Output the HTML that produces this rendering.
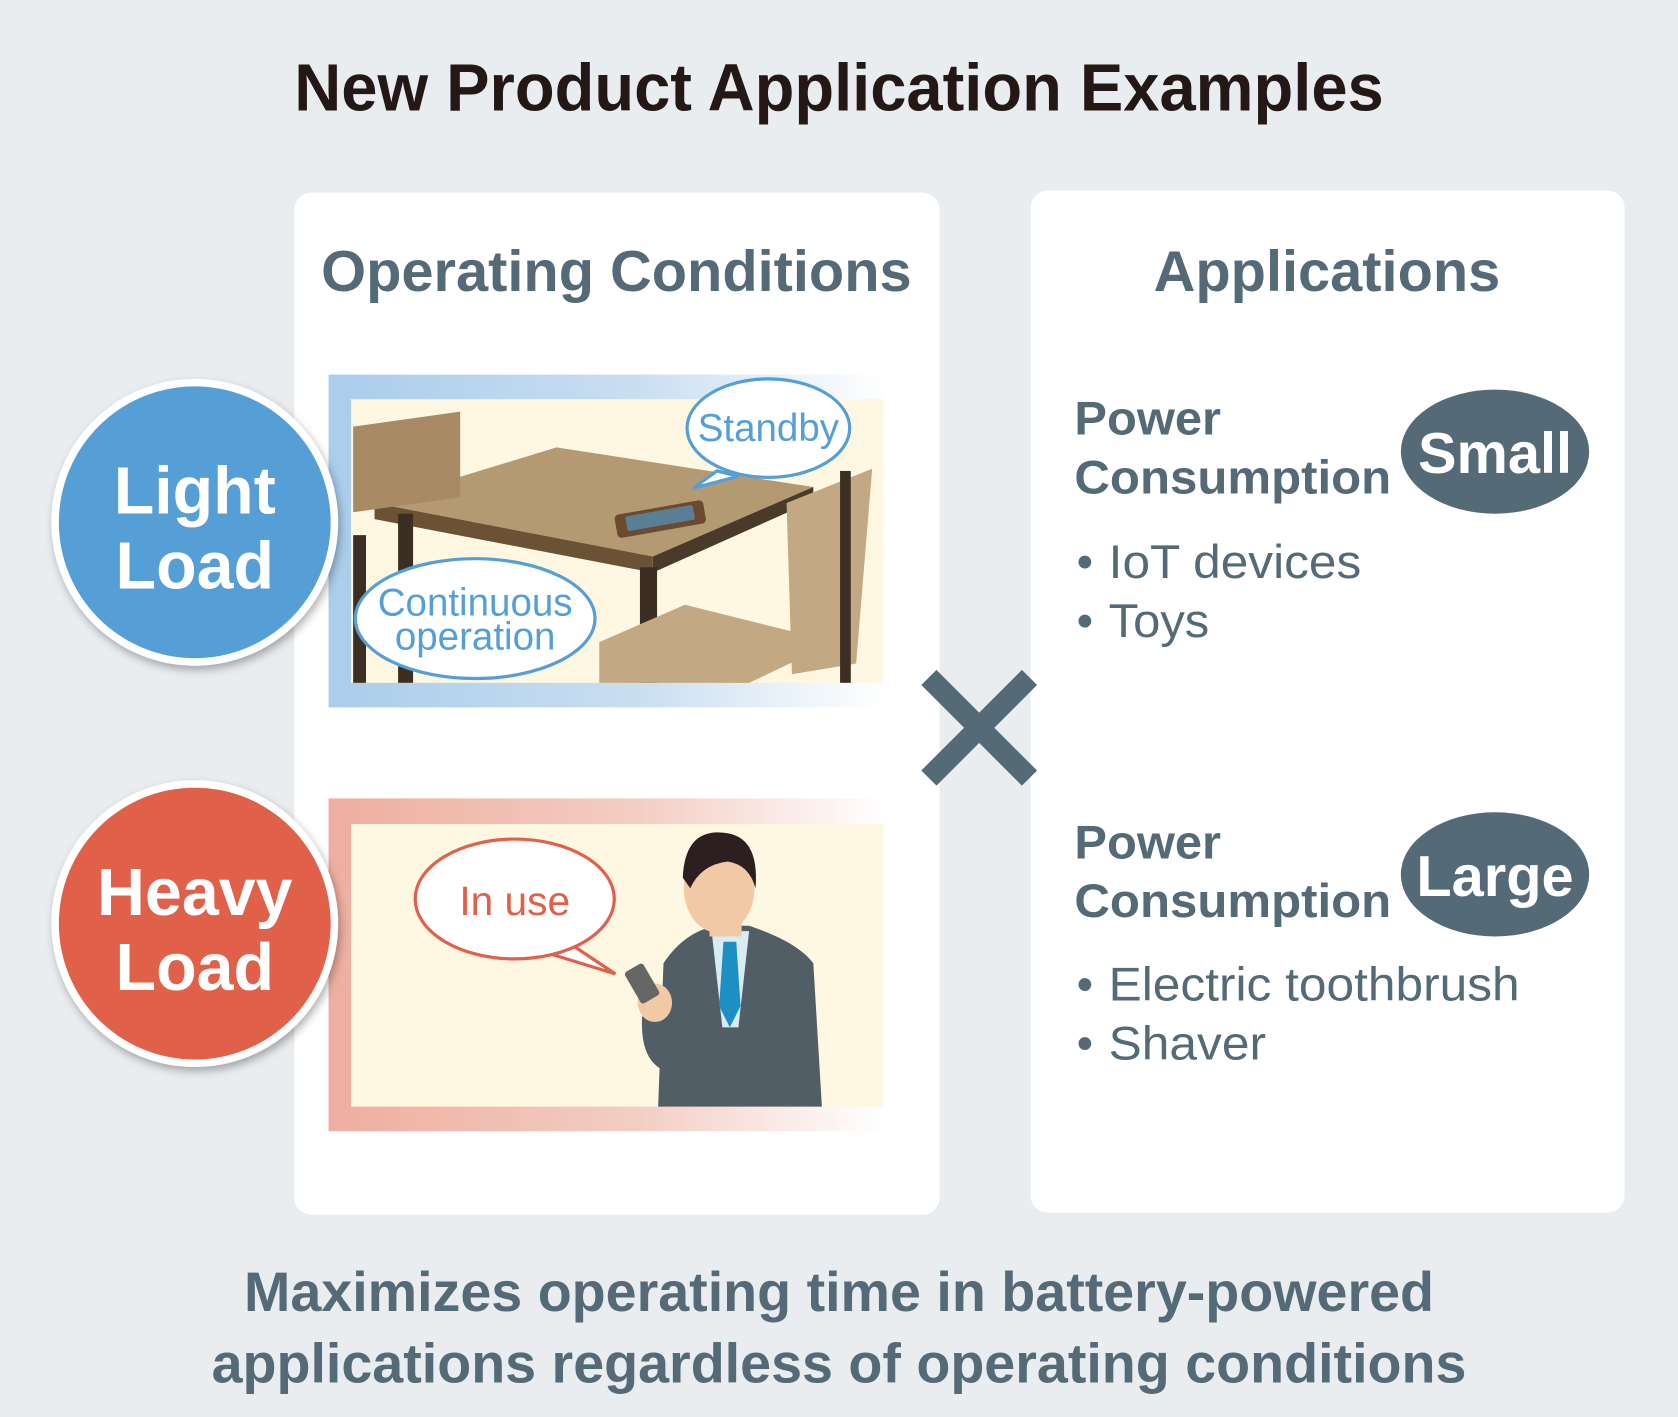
<!DOCTYPE html>
<html><head><meta charset="utf-8"><style>html,body{margin:0;padding:0;background:#e9edf0}svg{display:block}</style></head><body>
<svg width="1678" height="1417" viewBox="0 0 1568 1324" xmlns="http://www.w3.org/2000/svg" font-family="Liberation Sans, sans-serif">
<defs>
<linearGradient id="gb" x1="0" x2="1"><stop offset="0" stop-color="#a9cdeb"/><stop offset="0.55" stop-color="#c9def1"/><stop offset="1" stop-color="#ffffff"/></linearGradient>
<linearGradient id="gr" x1="0" x2="1"><stop offset="0" stop-color="#eeaea0"/><stop offset="0.55" stop-color="#f3cdc3"/><stop offset="1" stop-color="#ffffff"/></linearGradient>
<filter id="sh" x="-20%" y="-20%" width="140%" height="140%"><feDropShadow dx="2" dy="4" stdDeviation="4" flood-color="#000" flood-opacity="0.3"/></filter>
</defs>
<rect width="1568" height="1324" fill="#e9edf0"/>
<text x="275" y="103" textLength="1018" lengthAdjust="spacingAndGlyphs" font-size="62" font-weight="bold" fill="#231815">New Product Application Examples</text>
<rect x="275" y="180" width="603" height="955" rx="16" fill="#fff"/>
<rect x="963" y="178" width="555" height="955" rx="16" fill="#fff"/>
<text x="576" y="272" text-anchor="middle" font-size="54" font-weight="bold" fill="#546a77">Operating Conditions</text>
<text x="1240" y="272" text-anchor="middle" font-size="54" font-weight="bold" fill="#546a77">Applications</text>

<rect x="307" y="350" width="520" height="311" fill="url(#gb)"/>
<rect x="328" y="373" width="497" height="265" fill="#fef7e1"/>
<polygon points="350,470 520,418 760,455 610,520" fill="#b49a72"/>
<polygon points="350,470 610,520 610,535 350,485" fill="#6b5234"/>
<polygon points="610,520 760,455 760,468 610,535" fill="#4a3a2a"/>
<rect x="372" y="480" width="14" height="158" fill="#3c2e22"/>
<rect x="598" y="530" width="16" height="108" fill="#3c2e22"/>
<rect x="330" y="395" width="100" height="80" fill="#a88a64" transform="skewY(-8) translate(0,50)"/>
<rect x="330" y="500" width="12" height="138" fill="#3c2e22"/>
<polygon points="735,470 815,438 800,620 740,630" fill="#c2a883"/>
<polygon points="560,600 640,565 780,600 700,638 560,638" fill="#c2a883"/>
<rect x="785" y="440" width="10" height="198" fill="#3c2e22"/>
<rect x="575" y="474" width="84" height="22" rx="4" fill="#6b4a2e" transform="rotate(-10 617 485)"/>
<rect x="585" y="477" width="64" height="14" rx="2" fill="#5a7f95" transform="rotate(-10 617 485)"/>
<path d="M670,440 L648,456 L690,445 Z" fill="#fff" stroke="#559fd6" stroke-width="3"/>
<ellipse cx="718" cy="400" rx="76" ry="46" fill="#fff" stroke="#559fd6" stroke-width="3"/>
<text x="718" y="412" text-anchor="middle" font-size="36" fill="#559fd6">Standby</text>
<ellipse cx="444" cy="578" rx="112" ry="56" fill="#fff" stroke="#559fd6" stroke-width="3"/>
<text x="444" y="575" text-anchor="middle" font-size="36" fill="#559fd6">Continuous</text>
<text x="444" y="607" text-anchor="middle" font-size="36" fill="#559fd6">operation</text>

<rect x="307" y="746" width="520" height="311" fill="url(#gr)"/>
<rect x="328" y="770" width="497" height="264" fill="#fef7e1"/>
<path d="M530,880 L575,910 L510,890 Z" fill="#fff" stroke="#e0604a" stroke-width="3"/>
<ellipse cx="481" cy="840" rx="93" ry="56" fill="#fff" stroke="#e0604a" stroke-width="3"/>
<text x="481" y="855" text-anchor="middle" font-size="38" fill="#e0604a">In use</text>
<path d="M615,1034 L620,900 Q640,870 670,865 L700,865 Q745,880 760,900 L768,1034 Z" fill="#525e66"/>
<polygon points="665,870 700,870 690,960 675,960" fill="#d9ecf5"/>
<polygon points="676,880 688,880 692,940 682,960 672,940" fill="#1d8fc3"/>
<rect x="663" y="845" width="30" height="30" fill="#f1c9a5"/>
<ellipse cx="672" cy="830" rx="33" ry="42" fill="#f1c9a5"/>
<path d="M638,820 Q640,775 675,778 Q710,780 706,830 Q700,808 680,805 Q655,808 645,830 Z" fill="#2d1f1f"/>
<path d="M600,950 Q598,990 620,1000 L640,990 L625,930 Z" fill="#525e66"/>
<ellipse cx="612" cy="937" rx="16" ry="18" fill="#f1c9a5"/>
<rect x="590" y="902" width="20" height="34" rx="3" fill="#666" transform="rotate(-30 600 919)"/>

<circle cx="182" cy="488" r="134" fill="#fff" filter="url(#sh)"/>
<circle cx="182" cy="488" r="127" fill="#559fd6"/>
<text x="182" y="480" text-anchor="middle" font-size="62" font-weight="bold" fill="#fff">Light</text>
<text x="182" y="550" text-anchor="middle" font-size="62" font-weight="bold" fill="#fff">Load</text>
<circle cx="182" cy="863" r="134" fill="#fff" filter="url(#sh)"/>
<circle cx="182" cy="863" r="127" fill="#e0604a"/>
<text x="182" y="855" text-anchor="middle" font-size="62" font-weight="bold" fill="#fff">Heavy</text>
<text x="182" y="925" text-anchor="middle" font-size="62" font-weight="bold" fill="#fff">Load</text>

<g stroke="#546a77" stroke-width="20"><line x1="868" y1="633" x2="962" y2="727"/><line x1="962" y1="633" x2="868" y2="727"/></g>

<g fill="#546a77">
<text x="1004" y="406" font-size="44" font-weight="bold" textLength="137" lengthAdjust="spacingAndGlyphs">Power</text>
<text x="1004" y="461" font-size="44" font-weight="bold" textLength="296" lengthAdjust="spacingAndGlyphs">Consumption</text>
<ellipse cx="1397" cy="422" rx="88" ry="58"/>
<text x="1036" y="540" font-size="44" textLength="236" lengthAdjust="spacingAndGlyphs">IoT devices</text>
<text x="1036" y="595" font-size="44" textLength="94" lengthAdjust="spacingAndGlyphs">Toys</text>
<text x="1006" y="540" font-size="44">•</text>
<text x="1006" y="595" font-size="44">•</text>
<text x="1004" y="802" font-size="44" font-weight="bold" textLength="137" lengthAdjust="spacingAndGlyphs">Power</text>
<text x="1004" y="857" font-size="44" font-weight="bold" textLength="296" lengthAdjust="spacingAndGlyphs">Consumption</text>
<ellipse cx="1397" cy="817" rx="88" ry="58"/>
<text x="1036" y="935" font-size="44" textLength="384" lengthAdjust="spacingAndGlyphs">Electric toothbrush</text>
<text x="1036" y="990" font-size="44" textLength="147" lengthAdjust="spacingAndGlyphs">Shaver</text>
<text x="1006" y="935" font-size="44">•</text>
<text x="1006" y="990" font-size="44">•</text>
</g>
<text x="1397" y="442" text-anchor="middle" font-size="54" font-weight="bold" fill="#fff">Small</text>
<text x="1397" y="837" text-anchor="middle" font-size="54" font-weight="bold" fill="#fff">Large</text>

<text x="784" y="1225" text-anchor="middle" font-size="52" font-weight="bold" fill="#546a77">Maximizes operating time in battery-powered</text>
<text x="784" y="1292" text-anchor="middle" font-size="52" font-weight="bold" fill="#546a77">applications regardless of operating conditions</text>
</svg>
</body></html>
